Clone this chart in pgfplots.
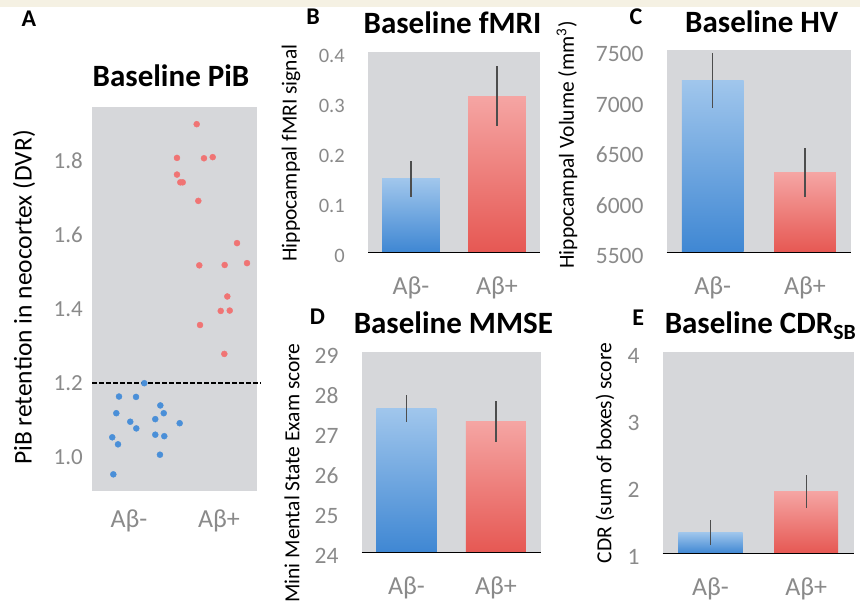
\documentclass[border=0pt]{standalone}
\usepackage{fontspec}
\setmainfont{Carlito}
\usepackage{pgfplots}
\pgfplotsset{compat=1.18}

\definecolor{bggray}{HTML}{D6D7DA}
\definecolor{tickgray}{HTML}{8A8A8A}
\definecolor{axisgray}{HTML}{8E8E8E}
\definecolor{errgray}{HTML}{4D4D4D}
\definecolor{blueTop}{HTML}{A0C6EC}
\definecolor{blueBot}{HTML}{3F87D3}
\definecolor{redTop}{HTML}{F5A5A3}
\definecolor{redBot}{HTML}{E65853}
\definecolor{dotblue}{HTML}{4A8FD8}
\definecolor{dotred}{HTML}{F07474}
\definecolor{beige}{HTML}{F5F1E3}

\pgfplotsset{
  panel/.style={
    scale only axis, anchor=south west, clip=false,
    axis background/.style={fill=bggray},
    axis line style={draw=none},
    tick style={draw=none}, major tick length=0pt,
    ticklabel style={text=tickgray},
    /pgf/number format/assume math mode=true,
    /pgf/number format/1000 sep={},
    scaled y ticks=false,
    xtick={0,1}, xticklabels={Aβ-,Aβ+},
    xticklabel style={font=\fontsize{26}{30}\selectfont, anchor=center, yshift=-36pt},
    yticklabel style={font=\fontsize{23.5}{27}\selectfont, anchor=east, inner sep=0pt, xshift=-23pt, yshift=-4pt},
    xmin=-0.5, xmax=1.5,
  },
  bluebar/.style={ybar, bar width=0.67, draw=none, top color=blueTop, bottom color=blueBot,
    error bars/.cd, y dir=both, y explicit, error mark=none,
    error bar style={errgray, line width=1.2pt}},
  redbar/.style={ybar, bar width=0.67, draw=none, top color=redTop, bottom color=redBot,
    error bars/.cd, y dir=both, y explicit, error mark=none,
    error bar style={errgray, line width=1.2pt}},
  baseline/.style={axisgray, line width=1.3pt},
}

\begin{document}
\begin{tikzpicture}[x=1pt,y=1pt]
\useasboundingbox (0,0) rectangle (860,602);
\fill[beige] (0,595) rectangle (860,602);

% A: scatter
\begin{axis}[panel, at={(92pt,110.6pt)}, width=165pt, height=383.9pt,
  xmin=-0.411, xmax=1.422, ymin=0.907, ymax=1.943,
  ytick={1.0,1.2,1.4,1.6,1.8},
  yticklabel style={font=\fontsize{23}{27}\selectfont, xshift=14pt, yshift=4pt},
  xticklabel style={font=\fontsize{26}{30}\selectfont, yshift=7pt},
  /pgf/number format/.cd, fixed, fixed zerofill, precision=1]
\addplot[only marks, mark=*, mark size=3pt, color=dotblue] coordinates {
  (0.170,1.199)(-0.111,1.163)(0.078,1.162)(-0.141,1.118)(0.348,1.139)(0.386,1.118)
  (0.014,1.095)(0.292,1.102)(0.081,1.077)(0.563,1.091)(-0.186,1.053)(-0.122,1.034)
  (0.292,1.060)(0.392,1.056)(0.344,1.006)(-0.174,0.953)
};
\addplot[only marks, mark=*, mark size=3pt, color=dotred] coordinates {
  (0.752,1.898)(0.533,1.807)(0.833,1.806)(0.930,1.809)(0.533,1.762)(0.570,1.741)
  (0.597,1.741)(0.770,1.691)(1.200,1.577)(0.781,1.517)(1.063,1.518)(1.311,1.523)
  (1.092,1.433)(1.019,1.394)(1.119,1.395)(0.789,1.356)(1.059,1.278)
};
\addplot[black, line width=1.7pt, dash pattern=on 4.5pt off 2.5pt] coordinates {(-0.411,1.2)(1.456,1.2)};
\end{axis}

% B: fMRI
\begin{axis}[panel, at={(368pt,350pt)}, width=172pt, height=200pt,
  ymin=0, ymax=0.4, ytick={0,0.1,0.2,0.3,0.4},
  yticklabel style={font=\fontsize{20.5}{24}\selectfont}]
\addplot[bluebar] coordinates {(0,0.146) +- (0,0.036)};
\addplot[redbar] coordinates {(1,0.311) +- (0,0.060)};
\draw[baseline] (rel axis cs:0,0) -- (rel axis cs:1,0);
\end{axis}

% C: HV
\begin{axis}[panel, at={(666.7pt,350pt)}, width=184.3pt, height=202pt,
  y coord trafo/.code={\pgfmathparse{#1-5500}},
  y coord inv trafo/.code={\pgfmathparse{#1+5500}},
  ymin=5500, ymax=7500, ytick={5500,6000,6500,7000,7500},
  yticklabels={5500,6000,6500,7000,7500}]
\addplot[bluebar] coordinates {(0,7196) +- (0,275)};
\addplot[redbar] coordinates {(1,6285) +- (0,245)};
\draw[baseline] (rel axis cs:0,0) -- (rel axis cs:1,0);
\end{axis}

% D: MMSE
\begin{axis}[panel, at={(361.7pt,49.7pt)}, width=179pt, height=200.6pt,
  y coord trafo/.code={\pgfmathparse{#1-24}},
  y coord inv trafo/.code={\pgfmathparse{#1+24}},
  ymin=24, ymax=29, ytick={24,25,26,27,28,29},
  yticklabels={24,25,26,27,28,29}]
\addplot[bluebar] coordinates {(0,27.58) +- (0,0.34)};
\addplot[redbar] coordinates {(1,27.26) +- (0,0.50)};
\draw[baseline] (rel axis cs:0,0) -- (rel axis cs:1,0);
\end{axis}

% E: CDR-SB
\begin{axis}[panel, at={(662.7pt,48.7pt)}, width=191.3pt, height=201.6pt,
  y coord trafo/.code={\pgfmathparse{#1-1}},
  y coord inv trafo/.code={\pgfmathparse{#1+1}},
  ymin=1, ymax=4, ytick={1,2,3,4},
  yticklabels={1,2,3,4}]
\addplot[bluebar] coordinates {(0,1.313) +- (0,0.187)};
\addplot[redbar] coordinates {(1,1.92) +- (0,0.25)};
\draw[baseline] (rel axis cs:0,0) -- (rel axis cs:1,0);
\end{axis}

% titles, panel letters, axis labels
\begin{scope}[every node/.style={inner sep=0pt}]
\node[anchor=base, font=\fontsize{31}{36}\selectfont\bfseries] at (171,515) {Baseline PiB};
\node[anchor=base, font=\fontsize{31}{36}\selectfont\bfseries] at (452.5,568.7) {Baseline fMRI};
\node[anchor=base, font=\fontsize{31}{36}\selectfont\bfseries] at (761.7,569) {Baseline HV};
\node[anchor=base, font=\fontsize{31}{36}\selectfont\bfseries] at (453.3,268.5) {Baseline MMSE};
\node[anchor=base, font=\fontsize{31}{36}\selectfont\bfseries] at (760.5,268) {Baseline CDR\textsubscript{SB}};
\node[anchor=base, font=\fontsize{24}{28}\selectfont\bfseries] at (29,575) {A};
\node[anchor=base, font=\fontsize{24}{28}\selectfont\bfseries] at (313,577.5) {B};
\node[anchor=base, font=\fontsize{24}{28}\selectfont\bfseries] at (636,577.5) {C};
\node[anchor=base, font=\fontsize{24}{28}\selectfont\bfseries] at (317.5,277.5) {D};
\node[anchor=base, font=\fontsize{24}{28}\selectfont\bfseries] at (638.3,276) {E};
\node[rotate=90, font=\fontsize{25.5}{30}\selectfont] at (24,304.5) {PiB retention in neocortex (DVR)};
\node[rotate=90, font=\fontsize{21.5}{25}\selectfont] at (291,449) {Hippocampal fMRI signal};
\node[rotate=90, font=\fontsize{21.5}{25}\selectfont] at (567,457) {Hippocampal Volume (mm\textsuperscript{3})};
\node[rotate=90, font=\fontsize{21.5}{25}\selectfont] at (292,129) {Mini Mental State Exam score};
\node[rotate=90, font=\fontsize{21.5}{25}\selectfont] at (605,149) {CDR (sum of boxes) score};
\end{scope}
\end{tikzpicture}
\end{document}
